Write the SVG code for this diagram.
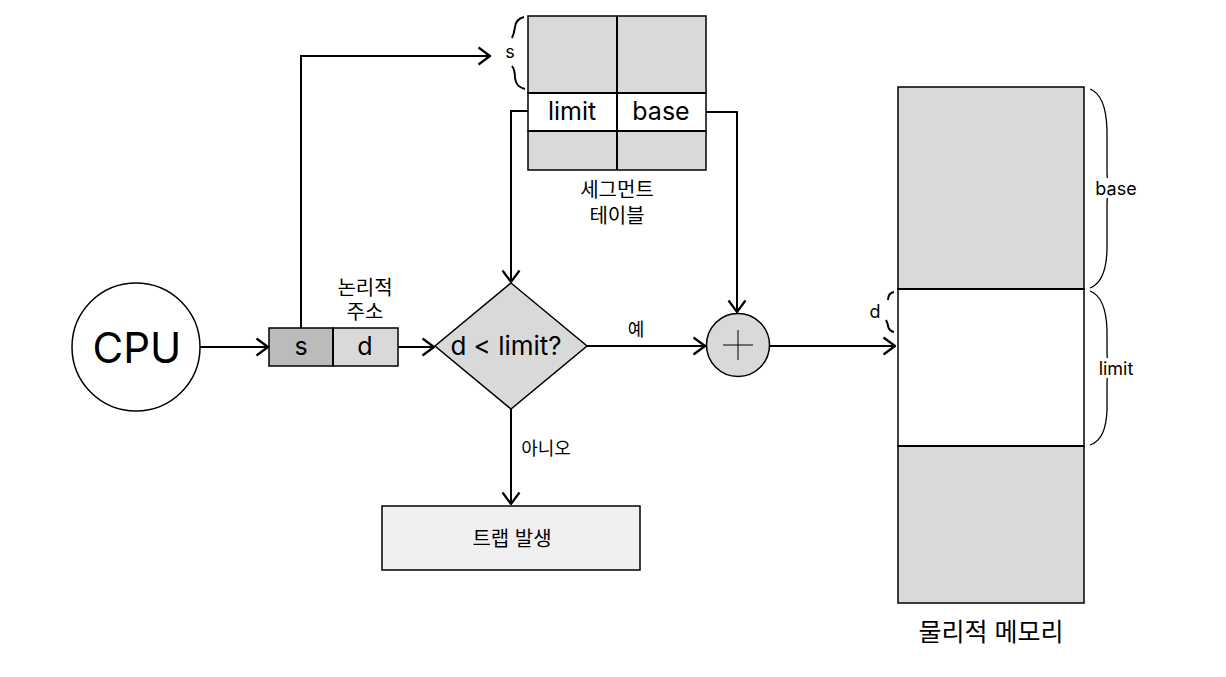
<svg xmlns="http://www.w3.org/2000/svg" width="1226" height="677" viewBox="0 0 1226 677">
<defs>
<marker id="arr" viewBox="0 0 14 20" refX="13" refY="10" markerWidth="14" markerHeight="20" markerUnits="userSpaceOnUse" orient="auto">
<path d="M1.5,1.5 L13,10 L1.5,18.5" fill="none" stroke="#000" stroke-width="2.2"/>
</marker>
</defs>
<style>
text{font-family:"Inter","Noto Sans CJK KR",sans-serif;fill:#000;text-anchor:middle;dominant-baseline:central}
.c{fill:none;stroke:#000;stroke-width:2;marker-end:url(#arr)}
.b{fill:none;stroke:#000;stroke-width:1.3}
.bt{fill:none;stroke:#000;stroke-width:2}
.g{fill:#d9d9d9;stroke:#000;stroke-width:1.5}
.w{fill:#fff;stroke:#000;stroke-width:1.5}
.t25{font-size:25px}
.t20{font-size:20px}
.t18{font-size:18px}
.bg{fill:#fff}
</style>
<rect width="1226" height="677" fill="#fff"/>
<g id="cpu">
<circle cx="136" cy="347" r="64" fill="#fff" stroke="#000" stroke-width="1.5"/>
<text x="137" y="347" font-size="42">CPU</text>
</g>
<g id="logical-address">
<rect x="269" y="328" width="64" height="38" fill="#bbbbbb" stroke="#000" stroke-width="1.5"/>
<rect x="333" y="328" width="65" height="38" class="g"/>
<line x1="333" y1="328" x2="333" y2="366" stroke="#000" stroke-width="2"/>
<text x="301" y="346" class="t25">s</text>
<text x="365" y="346" class="t25">d</text>
<text x="365" y="288" class="t20">논리적</text>
<text x="365" y="312" class="t20">주소</text>
</g>
<g id="segment-table">
<rect x="528" y="16" width="178" height="77" class="g"/>
<rect x="528" y="93" width="178" height="38" class="w"/>
<rect x="528" y="131" width="178" height="39" class="g"/>
<line x1="617" y1="16" x2="617" y2="170" stroke="#000" stroke-width="2"/>
<line x1="528" y1="93" x2="706" y2="93" stroke="#000" stroke-width="2"/>
<line x1="528" y1="131" x2="706" y2="131" stroke="#000" stroke-width="2"/>
<text x="572" y="111" class="t25">limit</text>
<text x="661" y="111" class="t25">base</text>
<path class="bt" d="M524,17 Q516,19 515,27 Q514,34 512,38"/>
<path class="bt" d="M512,66 Q515,70 515,78 Q516,87 525,89"/>
<text x="510" y="51" class="t18">s</text>
<text x="617" y="190" class="t20">세그먼트</text>
<text x="617" y="216" class="t20">테이블</text>
</g>
<g id="check">
<polygon points="511,283 587,346 511,409 435,346" class="g"/>
<text x="506" y="345" font-size="26">d &lt; limit?</text>
</g>
<g id="adder">
<circle cx="738" cy="345" r="31.5" class="g"/>
<line x1="723" y1="345" x2="753" y2="345" stroke="#000" stroke-width="1"/>
<line x1="738" y1="330" x2="738" y2="360" stroke="#000" stroke-width="1"/>
</g>
<g id="trap">
<rect x="382" y="506" width="258" height="64" fill="#f0f0f0" stroke="#000" stroke-width="1.5"/>
<text x="512" y="539" class="t20">트랩 발생</text>
</g>
<g id="memory">
<rect x="898" y="87" width="186" height="202" class="g"/>
<rect x="898" y="289" width="186" height="157" class="w"/>
<rect x="898" y="446" width="186" height="157" class="g"/>
<line x1="898" y1="289" x2="1084" y2="289" stroke="#000" stroke-width="2"/>
<line x1="898" y1="446" x2="1084" y2="446" stroke="#000" stroke-width="2"/>
<path class="b" d="M1090,89 Q1106,95 1107,130 L1107,170 Q1107,186 1110,188 Q1107,190 1107,206 L1107,250 Q1106,282 1090,288"/>
<rect x="1092" y="178" width="48" height="20" class="bg"/>
<text x="1116" y="188" class="t18">base</text>
<path class="b" d="M1090,291 Q1106,297 1107,330 L1107,350 Q1107,366 1110,368 Q1107,370 1107,386 L1107,410 Q1106,440 1090,445"/>
<rect x="1093" y="358" width="46" height="20" class="bg"/>
<text x="1116" y="368" class="t18">limit</text>
<path class="bt" d="M894,292 Q888,293 888,300"/>
<path class="bt" d="M886,320 Q888,324 888,326 Q889,331 894,332"/>
<text x="875" y="311" class="t18">d</text>
<text x="991" y="632" font-size="25">물리적 메모리</text>
</g>
<g id="connectors">
<path class="c" d="M200,347 L268,347"/>
<path class="c" d="M301,328 L301,56 L490,56"/>
<path class="c" d="M398,347 L434,347"/>
<path class="c" d="M528,111 L511,111 L511,282"/>
<path class="c" d="M706,112 L737,112 L737,312"/>
<path class="c" d="M587,346 L705,346"/>
<text x="636" y="329" class="t18">예</text>
<path class="c" d="M770,346 L895,346"/>
<path class="c" d="M511,409 L511,504"/>
<text x="546" y="448" class="t18">아니오</text>
</g>
</svg>
